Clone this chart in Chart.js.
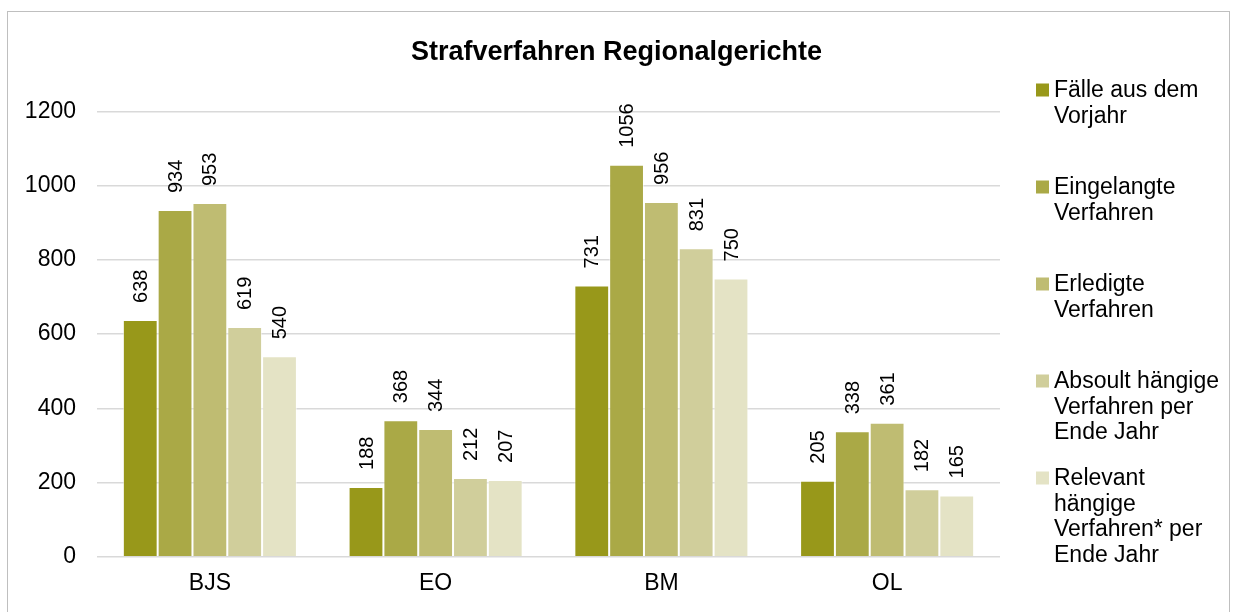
<!DOCTYPE html>
<html lang="de">
<head>
<meta charset="utf-8">
<title>Strafverfahren Regionalgerichte</title>
<script src="https://cdn.jsdelivr.net/npm/chart.js@4.4.1/dist/chart.umd.min.js"></script>
<style>
  html, body { margin: 0; padding: 0; background: #fff; overflow: hidden; }
  #wrap { position: relative; width: 1233px; height: 612px; }
  #frame {
    position: absolute; left: 7px; top: 11px; width: 1223px; height: 700px;
    border: 1px solid #bfbfbf; box-sizing: border-box; pointer-events: none;
  }
</style>
</head>
<body>
<div id="wrap">
  <canvas id="chart" width="1233" height="612"></canvas>
  <div id="frame"></div>
</div>
<script>
/* ── Data ── */
const courts = ["BJS", "EO", "BM", "OL"];
const faelleVorjahr = [638, 188, 731, 205];
const eingelangt = [934, 368, 1056, 338];
const erledigt = [953, 344, 956, 361];
const absolutHaengig = [619, 212, 831, 182];
const relevantHaengig = [540, 207, 750, 165];
const yTicks = [0, 200, 400, 600, 800, 1000, 1200];

const seriesNames = [
  ["Fälle aus dem", "Vorjahr"],
  ["Eingelangte", "Verfahren"],
  ["Erledigte", "Verfahren"],
  ["Absoult hängige", "Verfahren per", "Ende Jahr"],
  ["Relevant", "hängige", "Verfahren* per", "Ende Jahr"],
];
const seriesValues = [faelleVorjahr, eingelangt, erledigt, absolutHaengig, relevantHaengig];
const seriesColors = ["#98981a", "#aaa946", "#bfbc72", "#d0ce9b", "#e4e3c5"];

Chart.defaults.font.family = "'Liberation Sans', Arial, sans-serif";
Chart.defaults.color = "#000";

/* ── Value labels, rotated above each bar ── */
const valueLabels = {
  id: "valueLabels",
  afterDatasetsDraw(chart) {
    const ctx = chart.ctx;
    ctx.save();
    ctx.font = "20px 'Liberation Sans', Arial, sans-serif";
    ctx.fillStyle = "#000";
    ctx.textAlign = "left";
    ctx.textBaseline = "middle";
    chart.data.datasets.forEach((ds, i) => {
      chart.getDatasetMeta(i).data.forEach((bar, j) => {
        ctx.save();
        ctx.translate(bar.x, bar.y - 17);
        ctx.rotate(-Math.PI / 2);
        ctx.fillText(String(ds.data[j]), 0, 1);
        ctx.restore();
      });
    });
    ctx.restore();
  },
};

/* ── Legend on the right, fixed slots like the original ── */
const sideLegend = {
  id: "sideLegend",
  afterDraw(chart) {
    const ctx = chart.ctx;
    const x = chart.chartArea.right + 36;
    const top = 90;
    const slot = 97;
    const lineH = 25.5;
    ctx.save();
    ctx.font = "23px 'Liberation Sans', Arial, sans-serif";
    ctx.textAlign = "left";
    ctx.textBaseline = "middle";
    chart.data.datasets.forEach((ds, i) => {
      const y = top + i * slot;
      ctx.fillStyle = ds.backgroundColor;
      ctx.fillRect(x, y - 6.5, 13, 13);
      ctx.fillStyle = "#000";
      ds.label.forEach((line, k) => ctx.fillText(line, x + 18, y + k * lineH + 1));
    });
    ctx.restore();
  },
};

new Chart(document.getElementById("chart").getContext("2d"), {
  type: "bar",
  data: {
    labels: courts,
    datasets: seriesValues.map((values, i) => ({
      label: seriesNames[i],
      data: values,
      backgroundColor: seriesColors[i],
      borderColor: "rgba(255,255,255,0.55)",
      borderWidth: 1,
      categoryPercentage: 0.771,
      barPercentage: 1.0,
    })),
  },
  options: {
    responsive: false,
    animation: false,
    scales: {
      x: {
        grid: { display: false, drawTicks: false },
        border: { display: false },
        ticks: { font: { size: 23 }, padding: 13, color: "#000" },
        afterFit(scale) { scale.height = 55.3; },
      },
      y: {
        min: 0,
        max: 1200,
        afterBuildTicks(scale) { scale.ticks = yTicks.map((v) => ({ value: v })); },
        grid: { color: "#d9d9d9", lineWidth: 1.5, drawTicks: false },
        border: { display: false },
        ticks: {
          font: { size: 23 },
          padding: 21,
          color: "#000",
          callback: (v) => String(v),
        },
        afterFit(scale) { scale.width = 97; },
      },
      /* empty axis that keeps room for the legend on the right */
      legendSpace: {
        type: "linear",
        position: "right",
        min: 0,
        max: 1200,
        grid: { display: false, drawTicks: false },
        border: { display: false },
        ticks: { display: false },
        afterFit(scale) { scale.width = 233; },
      },
    },
    plugins: {
      legend: { display: false },
      tooltip: { enabled: false },
      title: {
        display: true,
        text: "Strafverfahren Regionalgerichte",
        font: { size: 27, weight: "bold" },
        color: "#000",
        padding: { top: 36.5, bottom: 42.5 },
      },
    },
  },
  plugins: [valueLabels, sideLegend],
});
</script>
</body>
</html>
